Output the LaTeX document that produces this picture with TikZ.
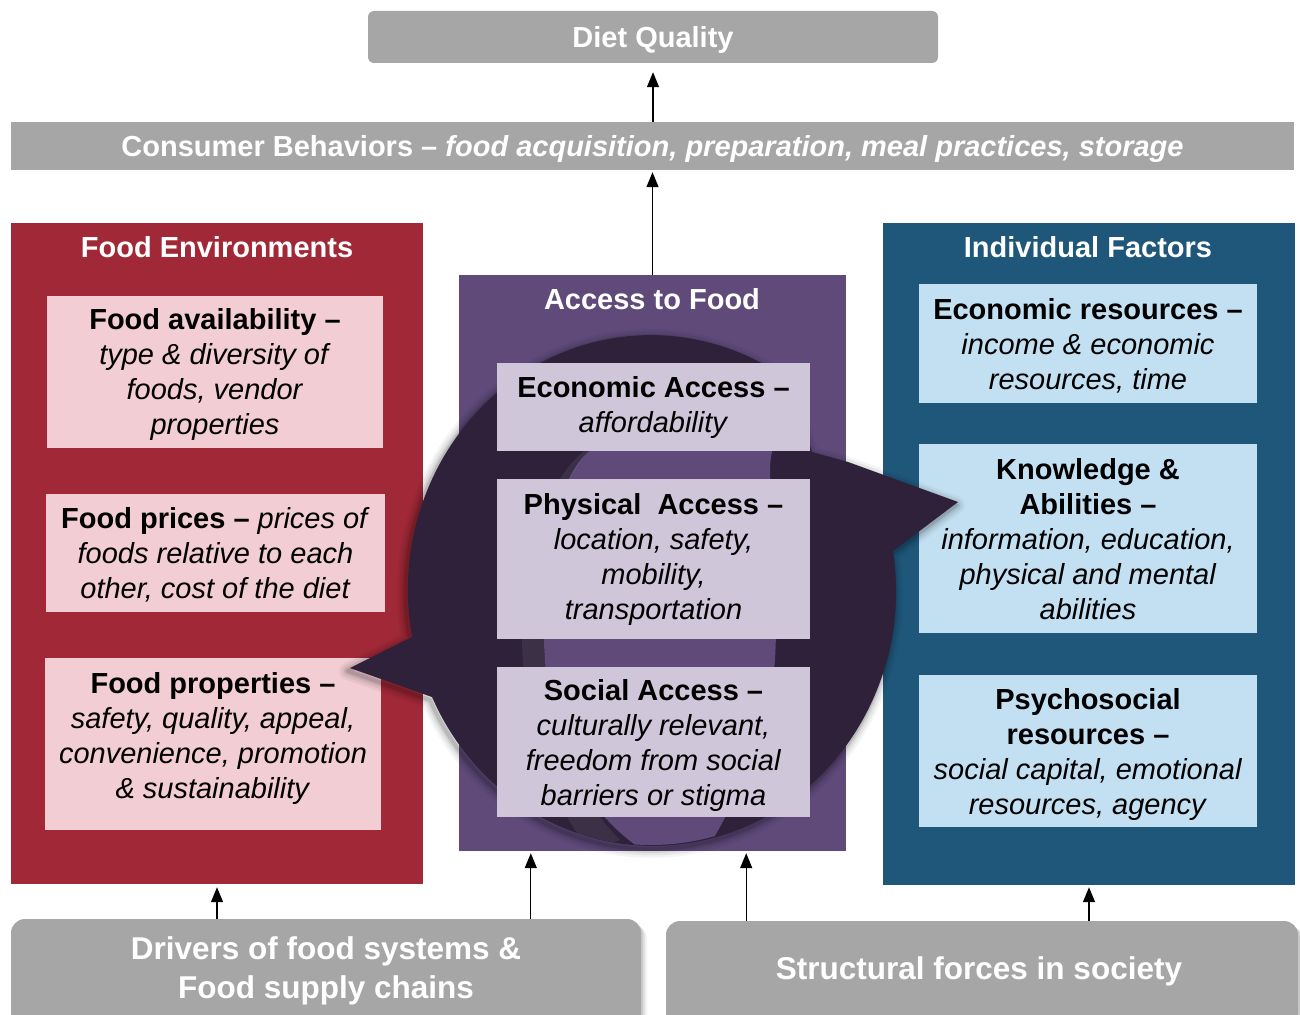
\documentclass[tikz,border=0pt]{standalone}
\usepackage{fontspec}
\setmainfont{Liberation Sans}
\usetikzlibrary{arrows.meta,calc}

\definecolor{boxgray}{HTML}{A6A6A6}
\definecolor{envred}{HTML}{A02837}
\definecolor{envpink}{HTML}{F2CDD3}
\definecolor{accpurple}{HTML}{5F4A7A}
\definecolor{acclav}{HTML}{D0C6DA}
\definecolor{indblue}{HTML}{1F577A}
\definecolor{indlight}{HTML}{C3E0F2}
\definecolor{cycdark}{HTML}{2E2139}

\newcommand{\bodyfont}{\fontsize{29}{35}\selectfont}
\newcommand{\bigfont}{\fontsize{31.5}{39}\selectfont}
% struts that even out the first and last line of a text block
\newcommand{\topln}{\rule{0pt}{27pt}}
\newcommand{\botln}{\rule[-6pt]{0pt}{6pt}}

% outline of the two-headed cycle swirl
\newcommand{\cyclepath}{(350,668) -- (412,637)
  arc[start angle=169.4, end angle=300, x radius=243, y radius=255]
  .. controls (795,395) and (805,430) .. (812,452)
  -- (848,462) -- (958,502) -- (893,551)
  arc[start angle=351, end angle=515.4, x radius=243, y radius=255]
  -- cycle}

\tikzset{
  struts/.style={execute at begin node={\rule{0pt}{#1}}, execute at end node={\rule[-6pt]{0pt}{6pt}}},
  panel/.style={rectangle, inner sep=0pt, draw=none},
  inbox/.style={rectangle, inner sep=0pt, align=center, font=\bodyfont, text=black},
  txt/.style={inner sep=0pt, align=center, font=\bodyfont, text=black},
  bigtxt/.style={inner sep=0pt, align=center, font=\bigfont\bfseries, text=white},
  paneltitle/.style={inner sep=0pt, text=white, font=\bodyfont\bfseries},
  graybox/.style={rectangle, inner sep=0pt, fill=boxgray, text=white, font=\bodyfont\bfseries, struts=27pt},
  arr/.style={-{Triangle[length=15pt,width=12pt]}, line width=1.3pt, black},
}

\begin{document}
\begin{tikzpicture}[x=1pt,y=-1pt]
\useasboundingbox (0,0) rectangle (1300,1014);
\clip (0,0) rectangle (1300,1014);
\fill[white] (0,0) rectangle (1300,1014);

% top outcome boxes
\node[graybox, rounded corners=6pt, minimum width=570, minimum height=52] (diet) at (653,37) {Diet Quality};
\node[graybox, minimum width=1283, minimum height=48] (consumer) at (652.5,146)
  {Consumer Behaviors – \textit{food acquisition, preparation, meal practices, storage}};

% three panels
\node[panel, fill=envred, minimum width=412, minimum height=661] (foodenv) at (217,553.5) {};
\node[panel, fill=accpurple, minimum width=387, minimum height=576] (access) at (652.5,563) {};
\node[panel, fill=indblue, minimum width=412, minimum height=662] (indiv) at (1089,554) {};

\node[paneltitle] (foodenvT) at (217,247) {Food Environments};
\node[paneltitle] (accessT) at (652,299) {Access to Food};
\node[paneltitle] (indivT) at (1088,247) {Individual Factors};

% food environment items
\node[inbox, fill=envpink, minimum width=336, minimum height=152] (favail) at (215,372)
  {\topln\textbf{Food availability –}\\ \textit{type \& diversity of}\\ \textit{foods, vendor}\\ \textit{properties}\botln};
\node[inbox, fill=envpink, minimum width=339, minimum height=118] (fprice) at (215.5,553)
  {\topln\textbf{Food prices –} \textit{prices of}\\ \textit{foods relative to each}\\ \textit{other, cost of the diet}\botln};
\node[panel, fill=envpink, minimum width=336, minimum height=172] (fprop) at (213,744) {};
\node[txt] (fpropT) at (213,735.5)
  {\topln\textbf{Food properties –}\\ \textit{safety, quality, appeal,}\\ \textit{convenience, promotion}\\ \textit{\& sustainability}\botln};

% individual factor items
\node[inbox, fill=indlight, minimum width=338, minimum height=119] (econres) at (1088,343.5)
  {\topln\textbf{Economic resources –}\\ \textit{income \& economic}\\ \textit{resources, time}\botln};
\node[inbox, fill=indlight, minimum width=338, minimum height=189] (knowl) at (1088,538.5)
  {\topln\textbf{Knowledge \&}\\ \textbf{Abilities –}\\ \textit{information, education,}\\ \textit{physical and mental}\\ \textit{abilities}\botln};
\node[inbox, fill=indlight, minimum width=338, minimum height=152] (psych) at (1088,751)
  {\topln\textbf{Psychosocial}\\ \textbf{resources –}\\ \textit{social capital, emotional}\\ \textit{resources, agency}\botln};

% cycle swirl: soft shadow, body, inner opening
\begin{scope}[xshift=-2pt, yshift=-3pt]
  \foreach \w/\o in {18/0.04, 13/0.06, 8/0.08, 4/0.12}
    \draw[line width=\w pt, black, opacity=\o, line join=round] \cyclepath;
\end{scope}
\fill[cycdark] \cyclepath;
\begin{scope}
  \clip (651,590) ellipse [x radius=243, y radius=255];
  \fill[accpurple] (800,412) .. controls (700,402) and (615,425) .. (587,453)
    .. controls (548,490) and (540,600) .. (545,660)
    .. controls (550,760) and (600,830) .. (660,860) -- (700,860)
    .. controls (740,800) and (770,720) .. (775,660)
    .. controls (780,560) and (770,500) .. (770,470)
    .. controls (770,440) and (785,420) .. (800,412) -- cycle;
  % faint sheen along the inner edge of the opening
  \fill[white, opacity=0.07] (600,440) .. controls (560,470) and (535,560) .. (545,660)
    .. controls (552,740) and (580,800) .. (620,840) -- (590,850)
    .. controls (540,790) and (520,700) .. (522,620)
    .. controls (525,530) and (555,465) .. (600,440) -- cycle;
\end{scope}

% access to food items
\node[panel, fill=acclav, minimum width=313, minimum height=88] (econacc) at (653.5,407) {};
\node[txt] (econaccT) at (653.5,405)
  {\topln\textbf{Economic Access –}\\ \textit{affordability}\botln};
\node[panel, fill=acclav, minimum width=313, minimum height=160] (physacc) at (653.5,559) {};
\node[txt] (physaccT) at (653.5,556.5)
  {\topln\textbf{Physical\ \ Access –}\\ \textit{location, safety,}\\ \textit{mobility,}\\ \textit{transportation}\botln};
\node[inbox, fill=acclav, minimum width=313, minimum height=150] (socacc) at (653.5,742)
  {\topln\textbf{Social Access –}\\ \textit{culturally relevant,}\\ \textit{freedom from social}\\ \textit{barriers or stigma}\botln};

% bottom driver boxes with soft shadow
\foreach \s/\o in {6/0.05, 4/0.07, 2/0.09}{
  \fill[black, opacity=\o, rounded corners=14pt] (11+\s,919+\s) rectangle (641+\s,1040);
  \fill[black, opacity=\o, rounded corners=14pt] (666+\s,921+\s) rectangle (1298+\s,1040);
}
\node[panel, fill=boxgray, rounded corners=14pt, minimum width=630, minimum height=121] (drivers) at (326,979.5) {};
\node[panel, fill=boxgray, rounded corners=14pt, minimum width=632, minimum height=119] (struct) at (982,980.5) {};
\node[bigtxt] (driversT) at (326,967.5) {\rule{0pt}{29pt}Drivers of food systems \&\\ Food supply chains\rule[-6.5pt]{0pt}{6.5pt}};
\node[bigtxt] (structT) at (979,968) {\rule{0pt}{29pt}Structural forces in society\rule[-6.5pt]{0pt}{6.5pt}};

% connectors
\coordinate (accL) at ([xshift=72pt]access.south west);
\coordinate (accR) at ([xshift=-100pt]access.south east);
\draw[arr, shorten >=9pt] (consumer.north -| diet.south) -- (diet.south);
\draw[arr, shorten >=2pt] (access.north -| consumer.south) -- (consumer.south);
\draw[arr, shorten >=3pt] (drivers.north -| foodenv.south) -- (foodenv.south);
\draw[arr, shorten >=2pt] (drivers.north -| accL) -- (accL);
\draw[arr, shorten >=2pt] (struct.north -| accR) -- (accR);
\draw[arr, shorten >=2pt] (struct.north -| indiv.south) -- (indiv.south);
\end{tikzpicture}
\end{document}
